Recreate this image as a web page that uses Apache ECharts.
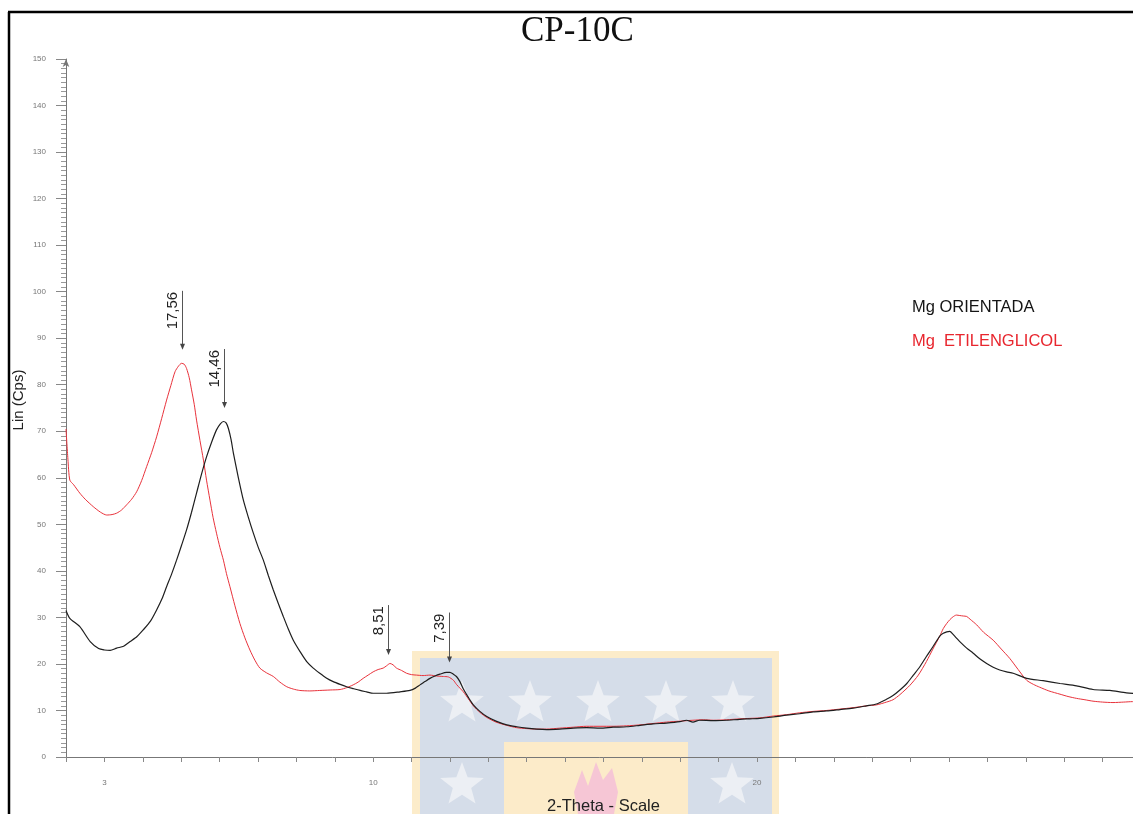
<!DOCTYPE html>
<html>
<head>
<meta charset="utf-8">
<title>CP-10C</title>
<script src="https://cdn.jsdelivr.net/npm/echarts@6/dist/echarts.min.js"></script>
<style>
  html, body { margin: 0; padding: 0; background: #fff; }
  #chart { width: 1133px; height: 814px; }
</style>
</head>
<body>
<div id="chart"></div>
<script>
// Diffractogram CP-10C: Mg-saturated oriented sample vs. ethylene-glycol solvated sample.

// Mg ORIENTADA scan (2-theta in degrees, counts in cps)
const thetaOrientada = [
  2.00, 2.10, 2.36, 2.63, 2.85, 3.00, 3.15, 3.32, 3.50, 3.67, 3.85, 4.01, 4.20, 4.36, 4.50, 4.62,
  4.75, 4.88, 5.01, 5.14, 5.27, 5.40, 5.53, 5.66, 5.79, 5.92, 6.02, 6.10, 6.17, 6.23, 6.30, 6.36,
  6.49, 6.62, 6.75, 6.88, 7.01, 7.14, 7.27, 7.40, 7.53, 7.66, 7.79, 7.92, 8.10, 8.27, 8.44, 8.61,
  8.78, 8.96, 9.14, 9.31, 9.48, 9.66, 9.83, 10.00, 10.35, 10.70, 10.96, 11.10, 11.22, 11.35, 11.48,
  11.61, 11.74, 11.91, 12.00, 12.09, 12.17, 12.26, 12.35, 12.48, 12.61, 12.78, 12.96, 13.20, 13.48,
  13.74, 14.00, 14.26, 14.52, 14.86, 15.21, 15.56, 15.91, 16.25, 16.60, 16.95, 17.29, 17.64, 17.99,
  18.16, 18.33, 18.50, 18.86, 19.20, 19.55, 19.81, 20.07, 20.42, 20.77, 21.11, 21.46, 21.81, 22.16,
  22.50, 22.85, 23.11, 23.37, 23.54, 23.72, 23.90, 24.07, 24.24, 24.41, 24.58, 24.76, 24.85, 24.94,
  25.02, 25.10, 25.19, 25.28, 25.46, 25.63, 25.80, 25.98, 26.15, 26.32, 26.50, 26.67, 27.02, 27.45,
  27.89, 28.32, 28.75, 29.19, 29.62, 30.00
];
const countsOrientada = [
  31.5, 29.8, 28.0, 24.8, 23.3, 23.0, 22.9, 23.4, 23.8, 24.8, 25.9, 27.3, 29.2, 31.6, 34.0, 36.6,
  39.3, 42.3, 45.5, 48.8, 52.6, 56.7, 60.8, 64.5, 67.6, 70.3, 71.6, 72.1, 71.8, 70.6, 68.2, 65.3,
  60.0, 55.2, 51.5, 48.1, 45.0, 42.3, 39.0, 35.9, 33.0, 30.2, 27.5, 25.1, 22.6, 20.5, 19.1, 18.0,
  17.0, 16.2, 15.6, 15.1, 14.7, 14.3, 14.0, 13.7, 13.7, 14.0, 14.3, 14.8, 15.5, 16.2, 16.9,
  17.4, 17.8, 18.2, 18.2, 17.8, 17.3, 16.2, 14.6, 12.8, 11.2, 9.8, 8.7, 7.7, 6.9,
  6.5, 6.2, 6.0, 5.9, 6.0, 6.2, 6.3, 6.2, 6.4, 6.5, 6.8, 7.1, 7.3, 7.6,
  7.9, 7.5, 7.9, 7.8, 7.9, 8.1, 8.2, 8.3, 8.6, 9.0, 9.3, 9.7, 9.9, 10.2,
  10.5, 11.0, 11.4, 12.4, 13.2, 14.4, 15.8, 17.6, 19.4, 21.6, 23.7, 26.0, 26.6, 26.9,
  27.0, 26.4, 25.6, 24.8, 23.4, 22.3, 21.1, 20.1, 19.3, 18.7, 18.3, 18.0, 16.9, 16.4,
  15.8, 15.3, 14.5, 14.3, 13.8, 13.6
];

// Mg ETILENGLICOL scan
const thetaGlicol = [
  2.00, 2.05, 2.10, 2.20, 2.36, 2.50, 2.71, 2.90, 3.06, 3.20, 3.32, 3.45, 3.58, 3.71, 3.84, 3.97,
  4.10, 4.23, 4.36, 4.49, 4.62, 4.73, 4.84, 4.93, 5.01, 5.08, 5.14, 5.21, 5.27, 5.34, 5.40, 5.49,
  5.58, 5.66, 5.75, 5.83, 5.92, 6.01, 6.10, 6.18, 6.27, 6.40, 6.53, 6.66, 6.79, 6.92, 7.05, 7.22,
  7.40, 7.57, 7.75, 7.92, 8.09, 8.35, 8.61, 8.88, 9.14, 9.31, 9.48, 9.61, 9.74, 9.87, 10.00, 10.13,
  10.26, 10.35, 10.44, 10.52, 10.61, 10.74, 10.87, 11.00, 11.13, 11.30, 11.48, 11.65, 11.83, 11.96,
  12.09, 12.17, 12.26, 12.35, 12.48, 12.61, 12.78, 12.96, 13.20, 13.48, 13.74, 14.00, 14.26, 14.52,
  14.86, 15.21, 15.56, 15.91, 16.25, 16.60, 16.95, 17.29, 17.64, 17.99, 18.33, 18.60, 18.86, 19.20,
  19.55, 19.81, 20.07, 20.42, 20.77, 21.11, 21.46, 21.81, 22.16, 22.50, 22.85, 23.11, 23.37, 23.54,
  23.72, 23.98, 24.20, 24.41, 24.58, 24.76, 24.85, 24.94, 25.02, 25.10, 25.19, 25.28, 25.37, 25.46,
  25.55, 25.72, 25.90, 26.15, 26.36, 26.58, 26.80, 27.02, 27.20, 27.36, 27.60, 27.89, 28.10, 28.32,
  28.54, 28.75, 29.00, 29.27, 29.55, 29.78, 30.00
];
const countsGlicol = [
  70.5, 64.0, 59.5, 58.5, 56.7, 55.4, 53.8, 52.6, 52.0, 52.1, 52.4, 53.1, 54.2, 55.4, 57.0, 59.4,
  62.4, 65.4, 68.8, 72.7, 76.7, 79.8, 82.8, 84.0, 84.6, 84.4, 83.5, 81.5, 78.9, 75.8, 72.4, 68.0,
  63.8, 59.5, 55.2, 51.5, 48.1, 45.0, 42.3, 39.4, 36.6, 32.5, 28.7, 25.6, 23.0, 20.8, 19.1, 18.1,
  17.3, 16.1, 15.1, 14.6, 14.3, 14.2, 14.3, 14.4, 14.5, 14.9, 15.5, 16.1, 16.9, 17.6, 18.3, 18.8,
  19.1, 19.6, 20.1, 19.8, 19.1, 18.6, 18.0, 17.7, 17.6, 17.5, 17.6, 17.4, 17.3, 17.2,
  16.5, 15.6, 14.8, 14.0, 12.5, 11.0, 9.6, 8.5, 7.5, 6.8, 6.3, 6.1, 6.0, 6.0,
  6.2, 6.4, 6.6, 6.6, 6.6, 6.7, 6.9, 7.2, 7.5, 7.7, 7.9, 8.0, 7.9, 8.0,
  8.2, 8.3, 8.4, 8.8, 9.1, 9.5, 9.8, 10.0, 10.3, 10.6, 11.0, 11.2, 11.8, 12.3,
  13.4, 15.4, 17.6, 20.5, 23.2, 26.0, 27.6, 28.7, 29.5, 30.1, 30.5, 30.4, 30.3, 30.2,
  29.6, 28.4, 26.8, 25.1, 23.2, 21.2, 18.8, 16.5, 15.6, 15.0, 14.2, 13.5, 13.0, 12.6,
  12.3, 12.0, 11.8, 11.7, 11.8, 11.9, 11.9
];

// Peak annotations: d-spacing (Å) and the count level the arrow points at
const peakLabels = ['17,56', '14,46', '8,51', '7,39'];
const peakArrowCounts = [87.5, 75.0, 21.9, 20.3];

// Labelled positions on the 2-theta axis
const xLabelValues = [3, 10, 20, 30];

const CU_KALPHA = 1.5406; // Å

// Bragg's law: d-spacing -> 2-theta (degrees)
function twoTheta(dText) {
  const d = parseFloat(dText.replace(',', '.'));
  return 2 * Math.asin(CU_KALPHA / (2 * d)) * 180 / Math.PI;
}

function pairs(xs, ys) {
  return xs.map((x, i) => [x, ys[i]]);
}

// Five-pointed star outline for the background emblem
function star(cx, cy, R) {
  const r = R * 0.42, pts = [];
  for (let i = 0; i < 10; i++) {
    const a = -Math.PI / 2 + i * Math.PI / 5;
    const rad = i % 2 === 0 ? R : r;
    pts.push([cx + rad * Math.cos(a), cy + rad * Math.sin(a)]);
  }
  return pts;
}

const emblemStars = [[462, 703], [530, 703], [598, 703], [666, 703], [733, 703], [462, 785], [732, 785]]
  .map(c => ({
    type: 'polygon', z: -8, silent: true,
    shape: { points: star(c[0], c[1], 23) },
    style: { fill: '#eceff4' }
  }));

const chart = echarts.init(document.getElementById('chart'), null, { renderer: 'canvas' });

const FONT = '"Liberation Sans", Arial, sans-serif';

chart.setOption({
  animation: false,
  backgroundColor: '#ffffff',
  title: {
    text: 'CP-10C',
    left: 521,
    top: 14,
    padding: 0,
    textStyle: { fontFamily: '"Liberation Serif", "Times New Roman", serif', fontWeight: 'normal', fontSize: 35, color: '#111' }
  },
  legend: {
    orient: 'vertical',
    left: 902,
    top: 292,
    itemWidth: 0,
    itemHeight: 20,
    itemGap: 14,
    selectedMode: false,
    textStyle: { fontFamily: FONT, fontSize: 16.5 },
    data: [
      { name: 'Mg ORIENTADA', icon: 'rect', textStyle: { color: '#151515' } },
      { name: 'Mg  ETILENGLICOL', icon: 'rect', textStyle: { color: '#e8262e' } }
    ]
  },
  // plot spans 2..30 degrees; the right end runs slightly past the page edge
  grid: { left: 66, top: 59, width: 1075, bottom: 57, containLabel: false, outerBoundsMode: 'none' },
  xAxis: {
    type: 'value',
    min: 2,
    max: 30,
    interval: 1,
    name: '2-Theta - Scale',
    nameLocation: 'middle',
    nameGap: 41,
    nameTextStyle: { fontFamily: FONT, fontSize: 16.5, color: '#222' },
    axisLine: { onZero: false, lineStyle: { color: '#777', width: 1 } },
    axisTick: { show: true, length: 5, lineStyle: { color: '#888' } },
    axisLabel: {
      margin: 22,
      fontSize: 8,
      color: '#777',
      fontFamily: FONT,
      formatter: v => (xLabelValues.indexOf(v) >= 0 ? String(v) : '')
    },
    splitLine: { show: false }
  },
  yAxis: {
    type: 'value',
    min: 0,
    max: 150,
    interval: 10,
    axisLine: { show: true, lineStyle: { color: '#777', width: 1 }, symbol: ['none', 'arrow'], symbolSize: [5, 8] },
    axisTick: { show: true, length: 10, lineStyle: { color: '#888' } },
    minorTick: { show: true, splitNumber: 10, length: 5, lineStyle: { color: '#999' } },
    axisLabel: { margin: 20, fontSize: 8, color: '#777', fontFamily: FONT },
    splitLine: { show: false }
  },
  graphic: [
    // page frame
    { type: 'line', z: 10, silent: true, shape: { x1: 8, y1: 12, x2: 1133, y2: 12 }, style: { stroke: '#000', lineWidth: 2.5 } },
    { type: 'line', z: 10, silent: true, shape: { x1: 9, y1: 12, x2: 9, y2: 814 }, style: { stroke: '#000', lineWidth: 2.5 } },
    // vertical axis title
    {
      type: 'text', z: 10, silent: true, x: 19, y: 400, rotation: Math.PI / 2,
      style: { text: 'Lin (Cps)', align: 'center', verticalAlign: 'middle', font: '15px ' + FONT, fill: '#222' }
    },
    // faint emblem behind the lower middle of the plot
    { type: 'rect', z: -10, silent: true, shape: { x: 412, y: 651, width: 367, height: 170 }, style: { fill: '#fcecca' } },
    { type: 'rect', z: -9, silent: true, shape: { x: 420, y: 658, width: 352, height: 160 }, style: { fill: '#d5dde9' } },
    { type: 'rect', z: -8, silent: true, shape: { x: 504, y: 742, width: 184, height: 80 }, style: { fill: '#fcebc9' } },
    {
      type: 'polygon', z: -7, silent: true,
      shape: { points: [[578, 814], [574, 792], [582, 770], [588, 786], [596, 762], [603, 780], [612, 768], [618, 792], [614, 814]] },
      style: { fill: '#f6c6d5' }
    },
    ...emblemStars
  ],
  series: [
    {
      name: 'Mg ORIENTADA',
      type: 'line',
      data: pairs(thetaOrientada, countsOrientada),
      showSymbol: false,
      smooth: 0.25,
      lineStyle: { color: '#1e1e1e', width: 1.2 },
      itemStyle: { color: '#1e1e1e' },
      z: 4
    },
    {
      name: 'Mg  ETILENGLICOL',
      type: 'line',
      data: pairs(thetaGlicol, countsGlicol),
      showSymbol: false,
      smooth: 0.25,
      lineStyle: { color: '#e8323b', width: 1 },
      itemStyle: { color: '#e8323b' },
      z: 3
    },
    {
      // d-spacing markers: vertical leader with arrowhead and rotated value
      name: 'peaks',
      type: 'custom',
      z: 5,
      silent: true,
      data: peakLabels.map((lab, i) => [twoTheta(lab), peakArrowCounts[i]]),
      renderItem: function (params, api) {
        const p = api.coord([api.value(0), api.value(1)]);
        const label = peakLabels[params.dataIndex];
        const len = label.length * 9 + 14;
        const x = Math.round(p[0]) + 0.5;
        const yTip = p[1];
        const yTop = yTip - len;
        return {
          type: 'group',
          children: [
            { type: 'line', shape: { x1: x, y1: yTop, x2: x, y2: yTip - 4 }, style: { stroke: '#555', lineWidth: 1 } },
            { type: 'polygon', shape: { points: [[x - 2.5, yTip - 6], [x + 2.5, yTip - 6], [x, yTip]] }, style: { fill: '#444' } },
            {
              type: 'text', x: x - 2, y: yTop + 1, rotation: Math.PI / 2,
              style: { text: label, align: 'right', verticalAlign: 'bottom', font: '15px ' + FONT, fill: '#222' }
            }
          ]
        };
      }
    }
  ]
});
</script>
</body>
</html>
